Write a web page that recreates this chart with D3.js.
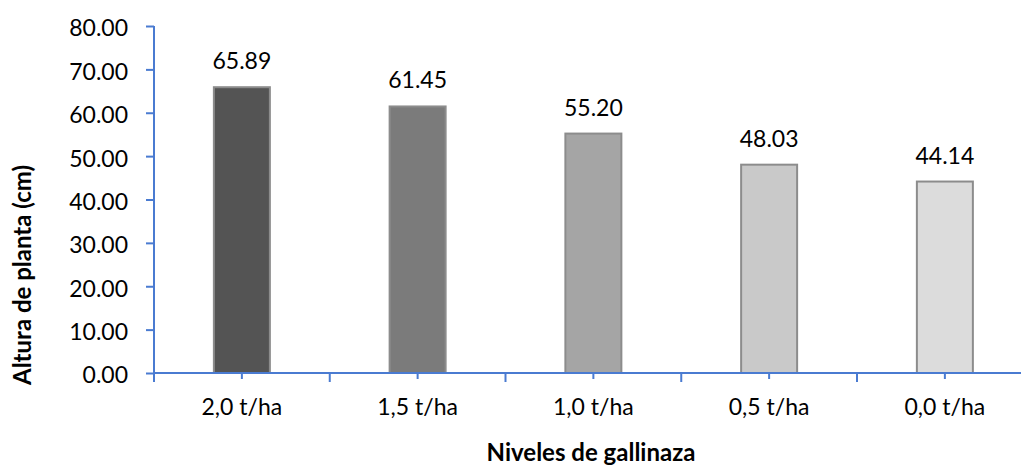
<!DOCTYPE html>
<html>
<head>
<meta charset="utf-8">
<script src="https://cdn.jsdelivr.net/npm/d3@7"></script>
<style>
  html, body { margin: 0; padding: 0; background: #ffffff; }
  svg { display: block; font-family: Lato, "Open Sans", sans-serif; }
</style>
</head>
<body>
<svg id="chart" width="1021" height="466"></svg>
<script>
// Plant height by poultry-manure level
const categories = ["2,0 t/ha", "1,5 t/ha", "1,0 t/ha", "0,5 t/ha", "0,0 t/ha"];
const heights = [65.89, 61.45, 55.20, 48.03, 44.14];
const barFills = ["#545454", "#7b7b7b", "#a5a5a5", "#c9c9c9", "#dcdcdc"];
const yTicks = [0, 10, 20, 30, 40, 50, 60, 70, 80];

const axisColor = "#4a7bd1";
const svg = d3.select("#chart");

const plotLeft = 154, plotBottom = 373, plotTop = 26, catWidth = 175.75;

const x = d3.scaleBand()
  .domain(categories)
  .range([plotLeft, plotLeft + catWidth * categories.length])
  .paddingInner(0).paddingOuter(0);

const y = d3.scaleLinear().domain([0, 80]).range([plotBottom, plotTop]);

const barW = 56;

// bars
svg.append("g").selectAll("rect")
  .data(categories)
  .join("rect")
  .attr("x", (d) => x(d) + x.bandwidth() / 2 - barW / 2)
  .attr("y", (d, i) => y(heights[i]))
  .attr("width", barW)
  .attr("height", (d, i) => y(0) - y(heights[i]))
  .attr("fill", (d, i) => barFills[i])
  .attr("stroke", "#8c8c8c")
  .attr("stroke-width", 2);

// value labels
svg.append("g").selectAll("text")
  .data(categories)
  .join("text")
  .attr("x", (d) => x(d) + x.bandwidth() / 2)
  .attr("y", (d, i) => y(heights[i]) - 18)
  .attr("text-anchor", "middle")
  .attr("font-size", 23)
  .attr("fill", "#000")
  .text((d, i) => heights[i].toFixed(2));

// y axis
const yAxis = svg.append("g")
  .attr("transform", `translate(${plotLeft},0)`)
  .call(d3.axisLeft(y).tickValues(yTicks).tickFormat(d3.format(".2f")).tickSize(8).tickPadding(18));
yAxis.select(".domain").remove();
yAxis.selectAll(".tick line").attr("stroke", axisColor).attr("stroke-width", 2);
yAxis.selectAll(".tick text")
  .attr("font-size", 23).attr("fill", "#000").attr("font-family", "Lato, 'Open Sans', sans-serif")
  .attr("dy", "0.43em");
yAxis.append("line")
  .attr("x1", 0).attr("x2", 0)
  .attr("y1", y(80)).attr("y2", plotBottom + 9)
  .attr("stroke", axisColor).attr("stroke-width", 2);

// x axis (short ticks at category centres)
const xAxis = svg.append("g")
  .attr("transform", `translate(0,${plotBottom})`)
  .call(d3.axisBottom(x).tickSize(6).tickPadding(20));
xAxis.select(".domain").remove();
xAxis.selectAll(".tick line").attr("stroke", axisColor).attr("stroke-width", 2);
xAxis.selectAll(".tick text")
  .attr("font-size", 23).attr("fill", "#000").attr("font-family", "Lato, 'Open Sans', sans-serif");
xAxis.append("line")
  .attr("x1", plotLeft - 1).attr("x2", x.range()[1])
  .attr("y1", 0).attr("y2", 0)
  .attr("stroke", axisColor).attr("stroke-width", 2);
// longer ticks at category boundaries
xAxis.append("g").selectAll("line")
  .data(categories.slice(1))
  .join("line")
  .attr("x1", (d) => x(d)).attr("x2", (d) => x(d))
  .attr("y1", 0).attr("y2", 9)
  .attr("stroke", axisColor).attr("stroke-width", 2);

// axis titles
svg.append("text")
  .attr("x", 591).attr("y", 461)
  .attr("text-anchor", "middle")
  .attr("font-size", 24).attr("font-weight", "bold").attr("fill", "#000")
  .text("Niveles de gallinaza");

svg.append("text")
  .attr("transform", "translate(31,275) rotate(-90)")
  .attr("text-anchor", "middle")
  .attr("font-size", 24).attr("font-weight", "bold").attr("fill", "#000")
  .text("Altura de planta (cm)");
</script>
</body>
</html>
